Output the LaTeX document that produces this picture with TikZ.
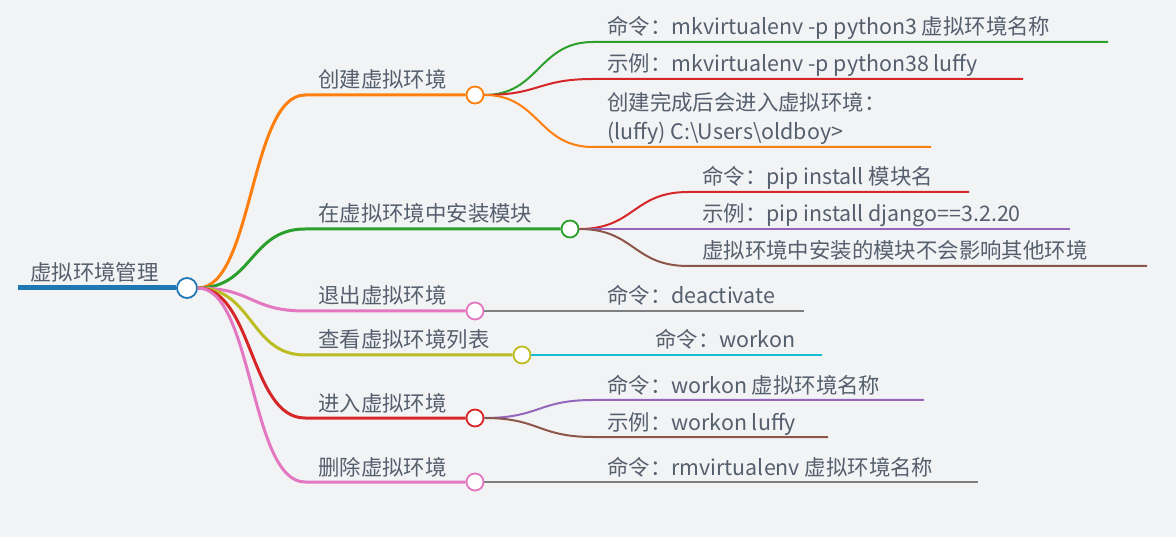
\documentclass[tikz,border=0pt]{standalone}
\usepackage{fontspec}
\setmainfont{Noto Sans CJK SC}
\usepackage{xcolor}
\usepackage{tikz}
\usetikzlibrary{positioning}
\definecolor{pagebg}{HTML}{F2F3F5}
\definecolor{ink}{HTML}{555F6D}
\definecolor{cblue}{HTML}{1F77B4}
\definecolor{corange}{HTML}{FF7F0E}
\definecolor{cgreen}{HTML}{2CA02C}
\definecolor{cred}{HTML}{D62728}
\definecolor{cpurple}{HTML}{9467BD}
\definecolor{cbrown}{HTML}{8C564B}
\definecolor{cpink}{HTML}{E377C2}
\definecolor{cgray}{HTML}{7F7F7F}
\definecolor{colive}{HTML}{BCBD22}
\definecolor{ccyan}{HTML}{17BECF}

\begin{document}
\begin{tikzpicture}[
    x=1pt, y=-1pt,
    font=\fontsize{21.4}{29}\selectfont,
    hub/.style={circle, draw=#1, fill=white, line width=1.8pt, minimum size=17pt, inner sep=0pt},
    rootline/.style={line width=5pt, cblue},
    branch/.style={line width=3pt, #1, to path={.. controls +(55,0) and +(-55,0) .. (\tikztotarget)}},
    leaf/.style={line width=2pt, #1, to path={.. controls +(55,0) and +(-55,0) .. (\tikztotarget)}},
    words/.style={anchor=base west, inner sep=0pt, text=ink},
]

% Background
\fill[pagebg] (0,0) rectangle (1176,537);

% Root
\coordinate (rootstart) at (18,288);
\node[hub=cblue, minimum size=20pt] (root) at (187,288) {};
\draw[rootline] (rootstart) -- (root.west);
\node[words] (roottext) at (30,281) {虚拟环境管理};

% Branch: create
\coordinate (createline) at (305,95);
\node[hub=corange] (create) at (475,95) {};
\draw[branch=corange] (root.east) to (createline) -- (create.west);
\node[words] (createtext) at (318,88) {创建虚拟环境};

\coordinate (createcmd) at (593,42);
\coordinate (createcmdend) at (1108,42);
\draw[leaf=cgreen] (create.east) to (createcmd) -- (createcmdend);
\node[words] (createcmdtext) at (607,35) {命令：mkvirtualenv -p python3 虚拟环境名称};

\coordinate (createex) at (593,79);
\coordinate (createexend) at (1023,79);
\draw[leaf=cred] (create.east) to (createex) -- (createexend);
\node[words] (createextext) at (607,72) {示例：mkvirtualenv -p python38 luffy};

\coordinate (createnote) at (593,147);
\coordinate (createnoteend) at (931,147);
\draw[leaf=corange] (create.east) to (createnote) -- (createnoteend);
\node[words, align=left] (createnotetext) at (607,140) {创建完成后会进入虚拟环境：\\(luffy) C:\textbackslash Users\textbackslash oldboy>};

% Branch: install
\coordinate (installline) at (305,229);
\node[hub=cgreen] (install) at (570,229) {};
\draw[branch=cgreen] (root.east) to (installline) -- (install.west);
\node[words] (installtext) at (318,222) {在虚拟环境中安装模块};

\coordinate (installcmd) at (688,192);
\coordinate (installcmdend) at (969,192);
\draw[leaf=cred] (install.east) to (installcmd) -- (installcmdend);
\node[words] (installcmdtext) at (702,185) {命令：pip install 模块名};

\coordinate (installex) at (688,229);
\coordinate (installexend) at (1070,229);
\draw[leaf=cpurple] (install.east) to (installex) -- (installexend);
\node[words] (installextext) at (702,222) {示例：pip install django==3.2.20};

\coordinate (installnote) at (688,266);
\coordinate (installnoteend) at (1147,266);
\draw[leaf=cbrown] (install.east) to (installnote) -- (installnoteend);
\node[words] (installnotetext) at (702,259) {虚拟环境中安装的模块不会影响其他环境};

% Branch: deactivate
\coordinate (quitline) at (305,311);
\node[hub=cpink] (quit) at (475,311) {};
\draw[branch=cpink] (root.east) to (quitline) -- (quit.west);
\node[words] (quittext) at (318,304) {退出虚拟环境};

\coordinate (quitcmd) at (593,311);
\coordinate (quitcmdend) at (804,311);
\draw[leaf=cgray] (quit.east) to (quitcmd) -- (quitcmdend);
\node[words] (quitcmdtext) at (607,304) {命令：deactivate};

% Branch: list
\coordinate (listline) at (305,355);
\node[hub=colive] (list) at (522,355) {};
\draw[branch=colive] (root.east) to (listline) -- (list.west);
\node[words] (listtext) at (318,348) {查看虚拟环境列表};

\coordinate (listcmd) at (638,355);
\coordinate (listcmdend) at (822,355);
\draw[leaf=ccyan] (list.east) to (listcmd) -- (listcmdend);
\node[words] (listcmdtext) at (655,348) {命令：workon};

% Branch: enter
\coordinate (enterline) at (305,418);
\node[hub=cred] (enter) at (475,418) {};
\draw[branch=cred] (root.east) to (enterline) -- (enter.west);
\node[words] (entertext) at (318,411) {进入虚拟环境};

\coordinate (entercmd) at (593,400);
\coordinate (entercmdend) at (924,400);
\draw[leaf=cpurple] (enter.east) to (entercmd) -- (entercmdend);
\node[words] (entercmdtext) at (607,393) {命令：workon 虚拟环境名称};

\coordinate (enterex) at (593,437);
\coordinate (enterexend) at (828,437);
\draw[leaf=cbrown] (enter.east) to (enterex) -- (enterexend);
\node[words] (enterextext) at (607,430) {示例：workon luffy};

% Branch: remove
\coordinate (removeline) at (305,482);
\node[hub=cpink] (remove) at (475,482) {};
\draw[branch=cpink] (root.east) to (removeline) -- (remove.west);
\node[words] (removetext) at (318,475) {删除虚拟环境};

\coordinate (removecmd) at (593,482);
\coordinate (removecmdend) at (978,482);
\draw[leaf=cgray] (remove.east) to (removecmd) -- (removecmdend);
\node[words] (removecmdtext) at (607,475) {命令：rmvirtualenv 虚拟环境名称};

\end{tikzpicture}
\end{document}
